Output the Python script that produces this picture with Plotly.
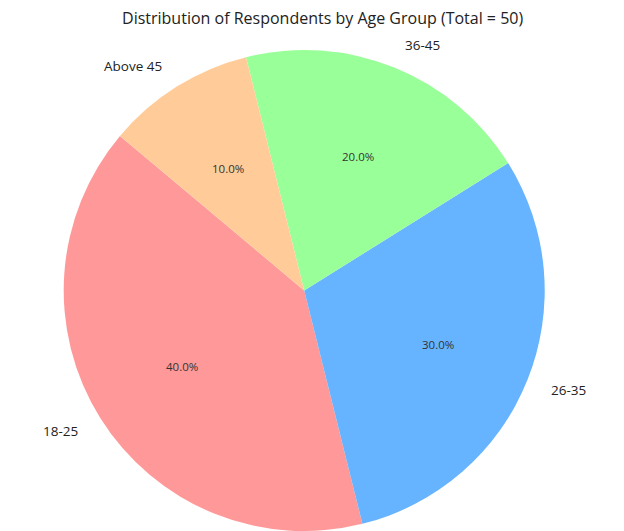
import math
import plotly.graph_objects as go

labels = ["18-25", "26-35", "36-45", "Above 45"]
counts = [20, 15, 10, 5]
colors = ["#ff9999", "#66b3ff", "#99ff99", "#ffcc99"]
title = "Distribution of Respondents by Age Group (Total = 50)"

W, H = 624, 531
mt, mb = 50, 0
plot_h = H - mt - mb
dom_x = [0.0, 0.975]
start_angle = 140  # degrees, counterclockwise from 3 o'clock
total = sum(counts)

# plotly (counterclockwise) puts the END of the first slice at `rotation`
first_end = start_angle + 360 * counts[0] / total
rotation = (90 - first_end) % 360
if rotation > 180:
    rotation -= 360

fig = go.Figure()
fig.add_trace(go.Pie(
    labels=labels, values=counts, sort=False,
    direction="counterclockwise", rotation=rotation,
    marker=dict(colors=colors, line=dict(width=0)),
    textinfo="none", hoverinfo="label+percent",
    domain=dict(x=dom_x, y=[0, 1]), showlegend=False,
))

# geometry for text placement (matches the pie's own radius)
cx_px = (dom_x[0] + dom_x[1]) / 2 * W
r_px = min((dom_x[1] - dom_x[0]) * W, plot_h) / 2
cum = 0
font = "Open Sans, sans-serif"
for lab, v in zip(labels, counts):
    mid = math.radians(start_angle + 360 * (cum + v / 2) / total)
    cum += v
    c, s = math.cos(mid), math.sin(mid)
    fig.add_annotation(
        x=(cx_px + 0.6 * r_px * c) / W, y=0.5 + 0.6 * r_px * s / plot_h,
        xref="paper", yref="paper", text=f"{100 * v / total:.1f}%",
        showarrow=False, xanchor="center", yanchor="middle",
        font=dict(size=11.5, color="#333333", family=font),
    )
    fig.add_annotation(
        x=(cx_px + 1.1 * r_px * c) / W, y=0.5 + 1.1 * r_px * s / plot_h,
        xref="paper", yref="paper", text=lab,
        showarrow=False, xanchor="left" if c > 0 else "right", yanchor="middle",
        font=dict(size=13.5, color="#222222", family=font),
    )

fig.update_layout(
    width=W, height=H,
    margin=dict(l=0, r=0, t=mt, b=mb),
    paper_bgcolor="white", plot_bgcolor="white",
    title=dict(text=title, x=0.517, xanchor="center", y=1 - 18 / H, yanchor="middle",
               font=dict(size=16, color="#222222", family=font)),
)
fig.write_html("out.html")
